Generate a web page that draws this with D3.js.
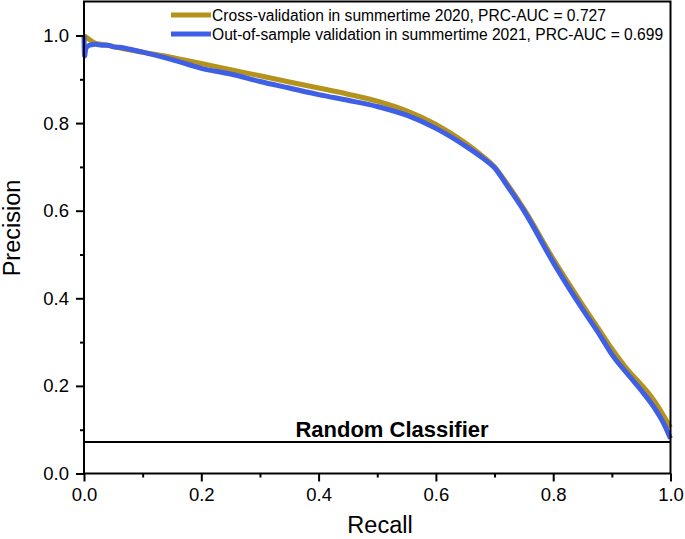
<!DOCTYPE html>
<html>
<head>
<meta charset="utf-8">
<script src="https://cdn.jsdelivr.net/npm/d3@7"></script>
<style>
  html, body { margin: 0; padding: 0; background: #fff; }
  text { font-family: "Liberation Sans", Arial, sans-serif; fill: #000; }
</style>
</head>
<body>
<svg id="chart" width="685" height="539"></svg>
<script>
// ---- data ----
const goldRecall = [0, 0.01, 0.02, 0.04, 0.06, 0.1, 0.15, 0.2, 0.25, 0.3, 0.35, 0.4, 0.45, 0.5, 0.55, 0.6, 0.65, 0.68, 0.7, 0.72, 0.75, 0.8, 0.85, 0.88, 0.9, 0.93, 0.95, 0.97, 0.99, 1.0];
const goldPrecision = [1.0, 0.99, 0.982, 0.978, 0.972, 0.962, 0.95, 0.936, 0.922, 0.908, 0.894, 0.880, 0.866, 0.850, 0.828, 0.797, 0.755, 0.724, 0.70, 0.664, 0.604, 0.49, 0.385, 0.325, 0.285, 0.232, 0.203, 0.17, 0.128, 0.105];
const blueRecall = [0, 0.001, 0.003, 0.006, 0.01, 0.02, 0.03, 0.04, 0.05, 0.06, 0.08, 0.1, 0.15, 0.2, 0.25, 0.3, 0.35, 0.4, 0.45, 0.5, 0.55, 0.6, 0.65, 0.68, 0.7, 0.72, 0.75, 0.8, 0.85, 0.88, 0.9, 0.93, 0.95, 0.97, 0.99, 1.0];
const bluePrecision = [1.0, 0.953, 0.97, 0.975, 0.978, 0.98, 0.978, 0.978, 0.974, 0.973, 0.968, 0.962, 0.945, 0.925, 0.912, 0.895, 0.88, 0.865, 0.852, 0.838, 0.818, 0.788, 0.748, 0.72, 0.698, 0.66, 0.60, 0.482, 0.375, 0.315, 0.272, 0.222, 0.19, 0.155, 0.11, 0.08];
const randomClassifier = 0.072;
const seriesNames = ["Cross-validation in summertime 2020, PRC-AUC = 0.727",
                     "Out-of-sample validation in summertime 2021, PRC-AUC = 0.699"];
const seriesColors = ["#b5921b", "#3f5fe6"];
const xTicks = [0, 0.2, 0.4, 0.6, 0.8, 1.0];
const yTicks = [0, 0.2, 0.4, 0.6, 0.8, 1.0];
const xMinor = [0.1, 0.3, 0.5, 0.7, 0.9];
const yMinor = [0.1, 0.3, 0.5, 0.7, 0.9];

// ---- layout ----
const svg = d3.select("#chart");
const L = 84, R = 670.5, T = 1.5, B = 473.5;
const x = d3.scaleLinear().domain([0, 1]).range([L, R]);
const y = d3.scaleLinear().domain([0, 1]).range([B, 35.5]);

// curves
const line = d3.line().x(d => x(d[0])).y(d => y(d[1])).curve(d3.curveMonotoneX);
const gold = goldRecall.map((r, i) => [r, goldPrecision[i]]);
const blue = blueRecall.map((r, i) => [r, bluePrecision[i]]);
[gold, blue].forEach((s, i) => {
  svg.append("path").datum(s).attr("d", line)
    .attr("fill", "none").attr("stroke", seriesColors[i])
    .attr("stroke-width", 5).attr("stroke-linejoin", "round").attr("stroke-linecap", "butt");
});

// random classifier
svg.append("line").attr("x1", L).attr("x2", R)
  .attr("y1", y(randomClassifier)).attr("y2", y(randomClassifier))
  .attr("stroke", "#000").attr("stroke-width", 2);
svg.append("text").attr("x", 392).attr("y", y(randomClassifier) - 5)
  .attr("text-anchor", "middle").attr("font-weight", "bold").attr("font-size", 22)
  .text("Random Classifier");

// frame
svg.append("rect").attr("x", L).attr("y", T).attr("width", R - L).attr("height", B - T)
  .attr("fill", "none").attr("stroke", "#000").attr("stroke-width", 2);

// axes
const xAxis = svg.append("g").attr("transform", `translate(0,${B})`)
  .call(d3.axisBottom(x).tickValues(xTicks).tickFormat(d3.format(".1f")).tickSize(8).tickPadding(6));
const xAxisMinor = svg.append("g").attr("transform", `translate(0,${B})`)
  .call(d3.axisBottom(x).tickValues(xMinor).tickFormat("").tickSize(4));
const yAxis = svg.append("g").attr("transform", `translate(${L},0)`)
  .call(d3.axisLeft(y).tickValues(yTicks).tickFormat(d3.format(".1f")).tickSize(8).tickPadding(7));
const yAxisMinor = svg.append("g").attr("transform", `translate(${L},0)`)
  .call(d3.axisLeft(y).tickValues(yMinor).tickFormat("").tickSize(4));
[xAxis, xAxisMinor, yAxis, yAxisMinor].forEach(g => {
  g.select(".domain").remove();
  g.selectAll(".tick line").attr("stroke", "#000").attr("stroke-width", 2);
  g.selectAll(".tick text").attr("font-size", 18.5).attr("fill", "#000")
    .style("font-family", '"Liberation Sans", Arial, sans-serif');
});

// axis titles
svg.append("text").attr("x", 380).attr("y", 533).attr("text-anchor", "middle")
  .attr("font-size", 23.5).text("Recall");
svg.append("text").attr("transform", "translate(20,228) rotate(-90)")
  .attr("text-anchor", "middle").attr("font-size", 23.5).text("Precision");

// legend
seriesNames.forEach((name, i) => {
  const ly = 15 + i * 19;
  svg.append("line").attr("x1", 171).attr("x2", 211).attr("y1", ly).attr("y2", ly)
    .attr("stroke", seriesColors[i]).attr("stroke-width", 5);
  svg.append("text").attr("x", 212).attr("y", ly + 5.5).attr("font-size", 15.6).text(name);
});
</script>
</body>
</html>
